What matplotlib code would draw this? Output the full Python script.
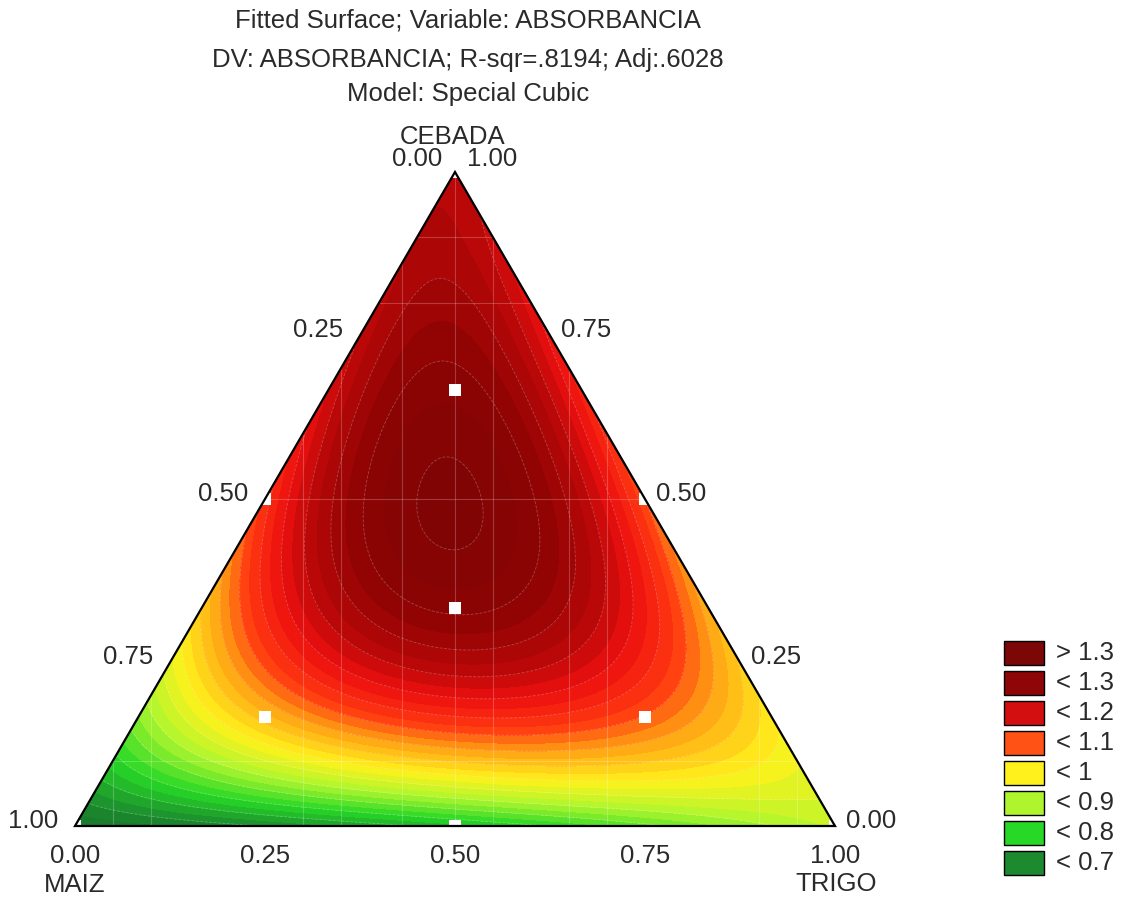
import numpy as np
import matplotlib
matplotlib.use("Agg")
import matplotlib.pyplot as plt
from matplotlib.colors import LinearSegmentedColormap
from matplotlib.patches import Polygon, Rectangle

plt.rcParams['font.family'] = ['Liberation Sans', 'DejaVu Sans']

# ---- data -------------------------------------------------------------
title_lines = ["Fitted Surface; Variable: ABSORBANCIA",
               "DV: ABSORBANCIA; R-sqr=.8194; Adj:.6028",
               "Model: Special Cubic"]
components = ["MAIZ", "TRIGO", "CEBADA"]
# special cubic model coefficients
linear_coef = [0.60, 0.88, 1.27]          # MAIZ, TRIGO, CEBADA
binary_coef = [-0.10, 0.80, 0.10]         # MAIZ*TRIGO, MAIZ*CEBADA, TRIGO*CEBADA
ternary_coef = 9.5                        # MAIZ*TRIGO*CEBADA
# design points (MAIZ, TRIGO, CEBADA)
design_maiz = [1, 0, 0, 0.5, 0.5, 0, 1/3, 2/3, 1/6, 1/6]
design_trigo = [0, 1, 0, 0.5, 0, 0.5, 1/3, 1/6, 2/3, 1/6]
design_cebada = [0, 0, 1, 0, 0.5, 0.5, 1/3, 1/6, 1/6, 2/3]
tick_values = [0.0, 0.25, 0.5, 0.75, 1.0]
legend_labels = ["> 1.3", "< 1.3", "< 1.2", "< 1.1", "< 1", "< 0.9", "< 0.8", "< 0.7"]
legend_colors = ["#7c0707", "#8e0606", "#d40f0f", "#ff5214", "#fff21c", "#aef52e", "#27d827", "#1c8a2e"]
color_anchor_values = [0.55, 0.65, 0.75, 0.85, 0.95, 1.05, 1.12, 1.2, 1.27, 1.35, 1.45]
color_anchor_colors = ["#16682b", "#1c8a2e", "#27d827", "#aef52e", "#fff21c",
                       "#ffa014", "#ff3a10", "#ee1010", "#b40606", "#8e0404", "#7a0404"]

# ---- figure -----------------------------------------------------------
W, H = 1121, 897
fig = plt.figure(figsize=(W / 100, H / 100), dpi=100)
ax = fig.add_axes([0, 0, 1, 1])
XL, XR, YT, YB = 75, 835, 172, 826


def P(px, py):
    return ((px - XL) / (XR - XL), (YB - py) / (YB - YT))


ax.set_xlim(P(0, 0)[0], P(W, 0)[0])
ax.set_ylim(P(0, H)[1], P(0, 0)[1])
ax.axis('off')


def model(m, t, c):
    return (linear_coef[0] * m + linear_coef[1] * t + linear_coef[2] * c
            + binary_coef[0] * m * t + binary_coef[1] * m * c + binary_coef[2] * t * c
            + ternary_coef * m * t * c)


def to_xy(m, t, c):
    m, t, c = np.asarray(m), np.asarray(t), np.asarray(c)
    return t + c / 2, c


gx, gy = np.meshgrid(np.linspace(-0.01, 1.01, 500), np.linspace(-0.01, 1.01, 500))
cc = gy
tt = gx - gy / 2
mm = 1 - tt - cc
Z = model(mm, tt, cc)

tri = Polygon([(0, 0), (1, 0), (0.5, 1)], closed=True, facecolor='none',
              edgecolor='black', lw=1.6, zorder=6)
ax.add_patch(tri)

vmin, vmax = color_anchor_values[0], color_anchor_values[-1]
pos = [(v - vmin) / (vmax - vmin) for v in color_anchor_values]
cmap = LinearSegmentedColormap.from_list("absorb", list(zip(pos, color_anchor_colors)))
levels = np.arange(0.40, 1.60, 0.025)
cs = ax.contourf(gx, gy, Z, levels=levels, cmap=cmap, vmin=vmin, vmax=vmax, zorder=1)
cs.set_clip_path(tri)

cl = ax.contour(gx, gy, Z, levels=np.arange(0.45, 1.5, 0.05), colors='white',
                linewidths=0.6, linestyles='dashed', alpha=0.25, zorder=2)
cl.set_clip_path(tri)

# faint mesh lines
for xv in [0.05, 0.1, 0.3, 0.35, 0.43, 0.5, 0.55, 0.65, 0.7, 0.9, 0.95]:
    ln, = ax.plot([xv, xv], [0, 1], color='white', lw=0.8, alpha=0.22, zorder=2)
    ln.set_clip_path(tri)
for yv in [0.1, 0.5, 0.8, 0.9]:
    ln, = ax.plot([0, 1], [yv, yv], color='white', lw=0.8, alpha=0.22, zorder=2)
    ln.set_clip_path(tri)

# design points
dx, dy = to_xy(design_maiz, design_trigo, design_cebada)
pts, = ax.plot(dx, dy, 's', color='white', ms=9, mew=0, zorder=5)
pts.set_clip_path(tri)

fs = 18.5
tc = '#2a2a2a'
# titles
for i, (line, py) in enumerate(zip(title_lines, [20, 60, 94])):
    ax.text(*P(468, py), line, ha='center', va='center', fontsize=fs, color=tc)

# vertex labels
ax.text(*P(453, 137), "CEBADA", ha='center', va='center', fontsize=fs, color=tc)
ax.text(*P(75, 885), "MAIZ", ha='center', va='center', fontsize=fs, color=tc)
ax.text(*P(836, 884), "TRIGO", ha='center', va='center', fontsize=fs, color=tc)

# bottom axis (TRIGO fraction)
for v in tick_values:
    ax.text(*P(XL + v * (XR - XL), 856), f"{v:.2f}", ha='center', va='center', fontsize=fs, color=tc)
# left axis (MAIZ fraction)
for v in tick_values:
    c = 1 - v
    x, y = to_xy(v, 0, c)
    if v == 0:
        ax.text(*P(442, 159), f"{v:.2f}", ha='right', va='center', fontsize=fs, color=tc)
    else:
        ax.text(x - 0.022, y + 0.008, f"{v:.2f}", ha='right', va='center', fontsize=fs, color=tc)
# right axis (CEBADA fraction)
for v in tick_values:
    x, y = to_xy(0, 1 - v, v)
    if v == 1:
        ax.text(*P(467, 159), f"{v:.2f}", ha='left', va='center', fontsize=fs, color=tc)
    else:
        ax.text(x + 0.014, y + 0.008, f"{v:.2f}", ha='left', va='center', fontsize=fs, color=tc)

# legend
for i, (lab, col) in enumerate(zip(legend_labels, legend_colors)):
    yc = 653 + 30 * i
    x0, y0 = P(1004, yc + 12)
    x1, y1 = P(1044, yc - 12)
    ax.add_patch(Rectangle((x0, y0), x1 - x0, y1 - y0, facecolor=col,
                           edgecolor='black', lw=1.0, zorder=6))
    ax.text(*P(1056, yc), lab, ha='left', va='center', fontsize=fs, color=tc)

fig.savefig("out.png", dpi=100)
